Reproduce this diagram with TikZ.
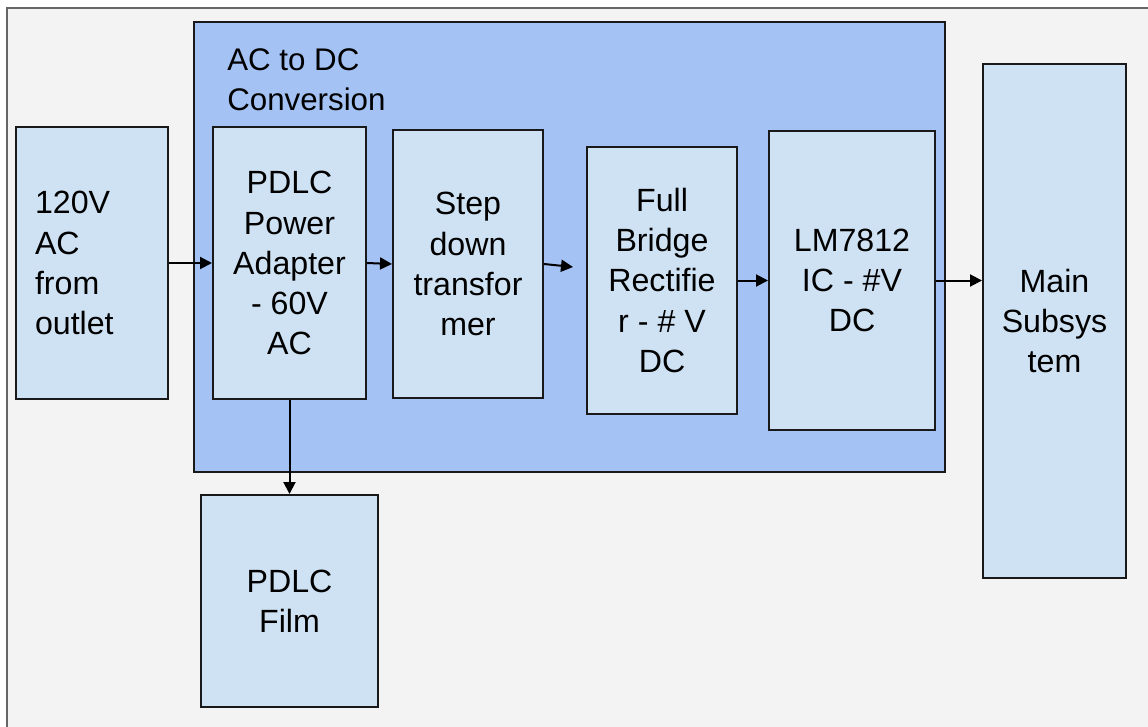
\documentclass[tikz,border=0pt]{standalone}
\usepackage{fontspec}
\setmainfont{Liberation Sans}
\usetikzlibrary{arrows.meta,positioning}
\definecolor{pdlcbg}{RGB}{243,243,243}
\definecolor{pdlcframe}{RGB}{102,102,102}
\definecolor{pdlcgroup}{RGB}{164,194,244}
\definecolor{pdlcbox}{RGB}{207,226,243}
\definecolor{pdlcline}{RGB}{25,25,25}
\newcommand{\pxu}{0.02cm}

\begin{document}
\begin{tikzpicture}[x=\pxu, y=-\pxu, >={Triangle[length=12*\pxu, width=12*\pxu]},
  box/.style={draw=pdlcline, fill=pdlcbox, line width=2*\pxu, rectangle, inner sep=0pt, align=center, font=\fontsize{18.3pt}{22.8pt}\selectfont},
  group/.style={draw=pdlcline, fill=pdlcgroup, line width=2*\pxu, rectangle, inner sep=0pt},
  label/.style={inner sep=0pt, align=left, font=\fontsize{17.8pt}{22.8pt}\selectfont},
  line/.style={draw=black, ->, line width=2*\pxu}
]
  \useasboundingbox (0,0) rectangle (1148,726);

  % Slide background
  \fill[white] (0,0) rectangle (1148,726);
  \draw[pdlcframe, fill=pdlcbg, line width=1.5*\pxu] (7,8) rectangle (1170,750);

  % AC to DC group
  \node [group, minimum width=751*\pxu, minimum height=450*\pxu] (conv) at (569.5,247) {};
  \node [label, anchor=north west] (convlabel) at (227,48) {AC to DC\\Conversion};

  % Blocks
  \node [box, align=left, text width=114*\pxu, inner xsep=19*\pxu, minimum height=272*\pxu] (outlet) at (92,263) {120V\\AC\\from\\outlet};
  \node [box, minimum width=153*\pxu, minimum height=272*\pxu] (adapter) at (289.5,263) {PDLC\\Power\\Adapter\\- 60V\\AC};
  \node [box, minimum width=150*\pxu, minimum height=268*\pxu] (stepdown) at (468,264) {Step\\down\\transfor\\mer};
  \node [box, minimum width=150*\pxu, minimum height=267*\pxu] (rectifier) at (662,280.5) {Full\\Bridge\\Rectifie\\r - \# V\\DC};
  \node [box, minimum width=166*\pxu, minimum height=299*\pxu] (regulator) at (852,280.5) {LM7812\\IC - \#V\\DC};
  \node [box, minimum width=143*\pxu, minimum height=514*\pxu] (mainsys) at (1054.5,321) {Main\\Subsys\\tem};
  \node [box, minimum width=177*\pxu, minimum height=212*\pxu, below=94*\pxu of adapter] (film) {PDLC\\Film};

  \coordinate (rectin) at (573,267);

  % Flow Connections
  \draw [line] (outlet.east) -- (adapter.west);
  \draw [line] (adapter.east) -- (stepdown.west);
  \draw [line] (stepdown.east) -- (rectin);
  \draw [line] (rectifier.east) -- (regulator.west);
  \draw [line] (regulator.east) -- (regulator.east -| mainsys.west);
  \draw [line] (adapter.south) -- (adapter.south |- film.north);

\end{tikzpicture}
\end{document}
